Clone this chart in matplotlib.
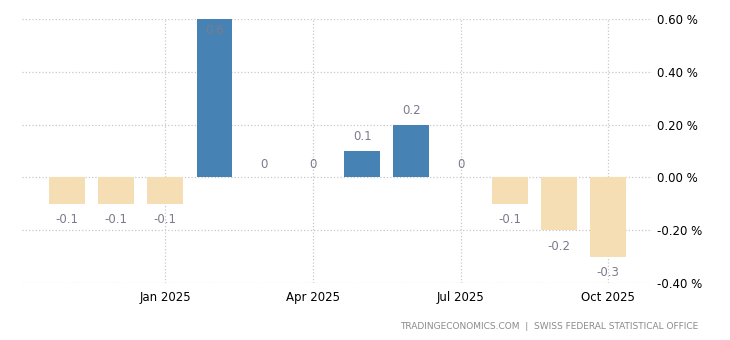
import matplotlib
matplotlib.use("Agg")
import matplotlib.pyplot as plt

months = ["Nov 2024", "Dec 2024", "Jan 2025", "Feb 2025", "Mar 2025", "Apr 2025",
          "May 2025", "Jun 2025", "Jul 2025", "Aug 2025", "Sep 2025", "Oct 2025"]
values = [-0.1, -0.1, -0.1, 0.6, 0.0, 0.0, 0.1, 0.2, 0.0, -0.1, -0.2, -0.3]
tick_labels = ["Jan 2025", "Apr 2025", "Jul 2025", "Oct 2025"]
y_ticks = [-0.4, -0.2, 0.0, 0.2, 0.4, 0.6]

fig = plt.figure(figsize=(7.3, 3.4), dpi=100)
ax = fig.add_axes([0.030, 0.1676, 0.863, 0.7765])

x = list(range(len(values)))
colors = ['#4682B4' if v > 0 else '#F5DEB3' for v in values]
ax.bar(x, values, width=0.73, color=colors, zorder=2)

ymin, ymax = -0.4, 0.6
ax.set_ylim(ymin, ymax)
ax.set_xlim(-0.915, 11.89)

label_color = '#7b7b8e'
for xi, v in zip(x, values):
    txt = f"{v:g}"
    if v > 0:
        if v + 0.06 > ymax:
            ax.text(xi, ymax - 0.045, txt, ha='center', va='center', fontsize=8.5, color=label_color, zorder=3)
        else:
            ax.text(xi, v + 0.055, txt, ha='center', va='center', fontsize=8.5, color=label_color, zorder=3)
    elif v == 0:
        ax.text(xi, 0.05, txt, ha='center', va='center', fontsize=8.5, color=label_color, zorder=3)
    else:
        ax.text(xi, v - 0.06, txt, ha='center', va='center', fontsize=8.5, color=label_color, zorder=3)

ax.set_xticks([months.index(t) for t in tick_labels])
ax.set_xticklabels(tick_labels, fontsize=8.5)
ax.set_yticks(y_ticks)
ax.set_yticklabels([f"{t:.2f} %" for t in y_ticks], fontsize=8.5)
ax.yaxis.tick_right()
ax.tick_params(axis='both', length=0, colors='black')
ax.tick_params(axis='y', pad=4)
ax.tick_params(axis='x', pad=6)

for s in ax.spines.values():
    s.set_visible(False)
ax.grid(True, linestyle=':', color='#c8c8c8', linewidth=0.9, zorder=0)
ax.set_axisbelow(True)

fig.text(0.956, 0.04, "TRADINGECONOMICS.COM  |  SWISS FEDERAL STATISTICAL OFFICE",
         ha='right', va='center', fontsize=6.5, color='#8a8a8a')

fig.savefig("out.png", dpi=100)
